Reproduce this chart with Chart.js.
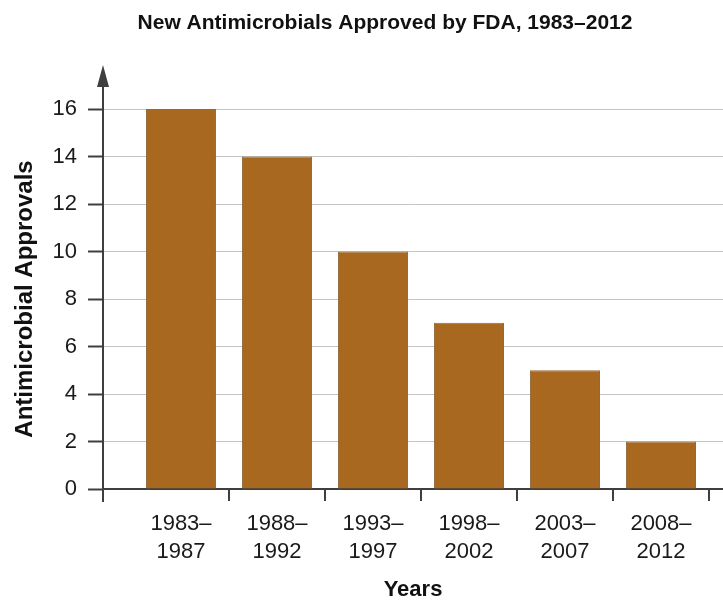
<!DOCTYPE html>
<html>
<head>
<meta charset="utf-8">
<script src="https://cdn.jsdelivr.net/npm/chart.js@4/dist/chart.umd.min.js"></script>
<style>
  html, body { margin: 0; padding: 0; background: #ffffff; }
  #wrap { width: 723px; height: 600px; }
</style>
</head>
<body>
<div id="wrap"><canvas id="c" width="723" height="600"></canvas></div>
<script>
const chartTitle = 'New Antimicrobials Approved by FDA, 1983–2012';
const yAxisTitle = 'Antimicrobial Approvals';
const xAxisTitle = 'Years';
const periodStarts = ['1983–', '1988–', '1993–', '1998–', '2003–', '2008–'];
const periodEnds = ['1987', '1992', '1997', '2002', '2007', '2012'];
const approvals = [16, 14, 10, 7, 5, 2];
const yTickValues = [0, 2, 4, 6, 8, 10, 12, 14, 16];

const FONT = '"Liberation Sans", Arial, sans-serif';
const AXIS = '#3f3f3f';

const barPoints = approvals.map((v, i) => ({ x: i, y: v }));

const decorations = {
  id: 'decorations',
  afterDraw(chart) {
    const { ctx, chartArea } = chart;
    const ax = chart.scales.y.right;
    ctx.save();
    ctx.strokeStyle = AXIS;
    ctx.fillStyle = AXIS;
    ctx.lineWidth = 2;
    ctx.beginPath();
    ctx.moveTo(ax, chartArea.bottom);
    ctx.lineTo(ax, chartArea.bottom + 13);
    ctx.moveTo(ax, chartArea.top);
    ctx.lineTo(ax, chartArea.top - 26);
    ctx.stroke();
    ctx.beginPath();
    ctx.moveTo(ax, chartArea.top - 44);
    ctx.lineTo(ax - 6, chartArea.top - 22);
    ctx.lineTo(ax + 6, chartArea.top - 22);
    ctx.closePath();
    ctx.fill();
    ctx.fillStyle = '#111111';
    ctx.font = 'bold 21px ' + FONT;
    ctx.textAlign = 'center';
    ctx.textBaseline = 'alphabetic';
    ctx.fillText(chartTitle, 385, 29);
    ctx.restore();
  }
};

new Chart(document.getElementById('c'), {
  type: 'bar',
  data: {
    datasets: [{
      data: barPoints,
      backgroundColor: '#a8681f',
      borderColor: '#94693a',
      borderWidth: 1,
      barPercentage: 0.73,
      categoryPercentage: 1
    }]
  },
  options: {
    responsive: false,
    animation: false,
    layout: { padding: { top: 109, left: 0, right: 0, bottom: 0 } },
    plugins: {
      legend: { display: false },
      tooltip: { enabled: false },
      title: { display: false }
    },
    scales: {
      x: {
        type: 'linear',
        min: -0.8125,
        max: 5.646,
        offset: false,
        afterBuildTicks(scale) {
          scale.ticks = periodStarts.map((_, i) => ({ value: i }));
        },
        afterFit(scale) { scale.height = 111; },
        ticks: {
          autoSkip: false,
          maxRotation: 0,
          minRotation: 0,
          padding: 9,
          color: '#1a1a1a',
          font: { family: FONT, size: 22, lineHeight: 1.28 },
          callback: (v) => [periodStarts[v], periodEnds[v]]
        },
        grid: {
          offset: true,
          drawOnChartArea: false,
          drawTicks: true,
          tickLength: 12,
          lineWidth: 2,
          color: (ctx) => ctx.index === 0 ? 'rgba(0,0,0,0)' : AXIS
        },
        border: { display: true, color: AXIS, width: 2 },
        title: {
          display: true,
          text: xAxisTitle,
          color: '#111111',
          font: { family: FONT, size: 22, weight: 'bold', lineHeight: 0.9 },
          padding: { top: 0, bottom: 0 }
        }
      },
      y: {
        min: 0,
        max: 16,
        afterBuildTicks(scale) {
          scale.ticks = yTickValues.map(v => ({ value: v }));
        },
        afterFit(scale) { scale.width = 103; },
        ticks: {
          padding: 11,
          color: '#1a1a1a',
          font: { family: FONT, size: 22 }
        },
        grid: {
          color: '#c4c4c4',
          tickColor: AXIS,
          tickLength: 15,
          lineWidth: 1,
          tickWidth: 2
        },
        border: { display: true, color: AXIS, width: 2 },
        title: {
          display: true,
          text: yAxisTitle,
          color: '#111111',
          font: { family: FONT, size: 24, weight: 'bold', lineHeight: 1.2 },
          padding: { top: 11, bottom: 0 }
        }
      }
    }
  },
  plugins: [decorations]
});
</script>
</body>
</html>
